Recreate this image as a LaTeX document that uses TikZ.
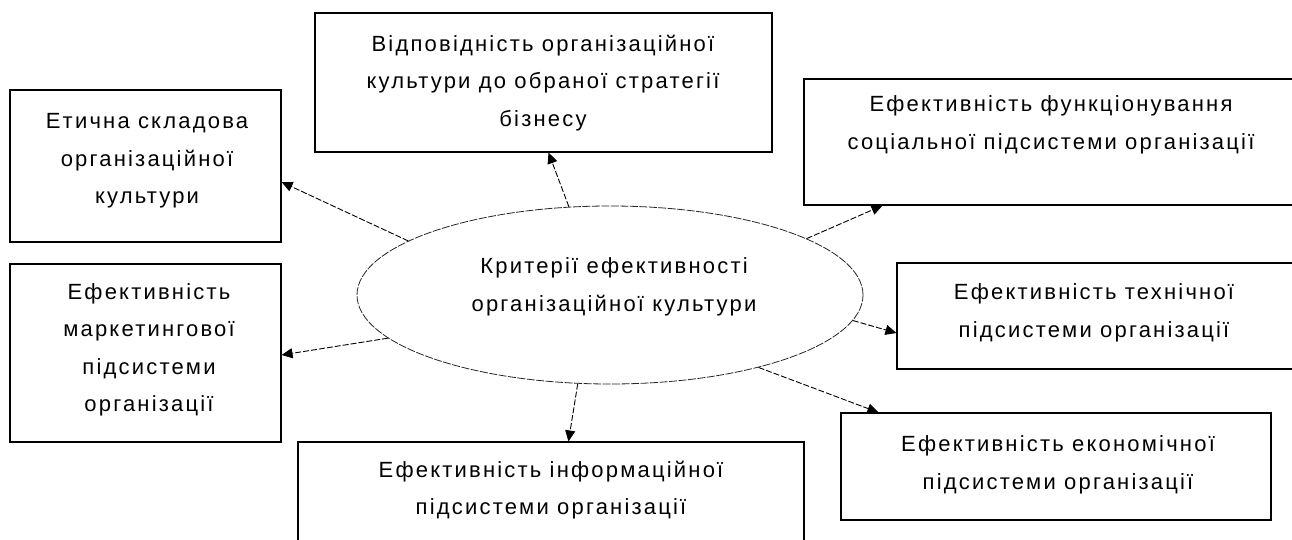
\documentclass[tikz,border=0pt]{standalone}
\usepackage{fontspec}
\setmainfont{Liberation Sans}[LetterSpace=10]
\usetikzlibrary{arrows.meta,calc,shapes.geometric}
\begin{document}
\begin{tikzpicture}[x=1pt,y=-1pt,
  box/.style={draw=black,line width=1.1pt,inner sep=0pt,rectangle},
  oval/.style={draw=black!85,line width=0.8pt,ellipse,inner sep=0pt,dash pattern=on 8pt off 1.5pt},
  txt/.style={align=center,inner sep=0pt,font=\fontsize{22}{37.5}\selectfont},
  conn/.style={draw=black,line width=0.9pt,dash pattern=on 6pt off 2pt,-{Triangle[length=11pt,width=10pt]}}]
\useasboundingbox (0,0) rectangle (1292,540);
\clip (0,0) rectangle (1292,540);
\fill[white] (0,0) rectangle (1292,540);
% boxes
\node[box,minimum width=271pt,minimum height=152pt] (etic) at (145.5,166) {};
\node[box,minimum width=457pt,minimum height=139pt] (resp) at (543.5,82.5) {};
\node[box,minimum width=494pt,minimum height=126pt] (soc) at (1051,142) {};
\node[box,minimum width=271pt,minimum height=178pt] (mkt) at (145.5,353) {};
\node[box,minimum width=396pt,minimum height=106pt] (tech) at (1095,316) {};
\node[box,minimum width=430pt,minimum height=107pt] (econ) at (1056,466.5) {};
\node[box,minimum width=506pt,minimum height=118pt] (info) at (551,501) {};
\node[oval,minimum width=506pt,minimum height=178pt] (c) at (610,295) {};
% texts
\node[txt] (tetic) at (147,161) {Етична складова\\організаційної\\культури};
\node[txt] (tresp) at (543,83) {Відповідність організаційної\\культури до обраної стратегії\\бізнесу};
\node[txt] (tsoc) at (1051,125) {Ефективність функціонування\\соціальної підсистеми організації};
\node[txt] (tmkt) at (149,350) {Ефективність\\маркетингової\\підсистеми\\організації};
\node[txt] (ttech) at (1094,313) {Ефективність технічної\\підсистеми організації};
\node[txt] (tecon) at (1058,465) {Ефективність економічної\\підсистеми організації};
\node[txt] (tinfo) at (551,490) {Ефективність інформаційної\\підсистеми організації};
\node[txt] (tc) at (614,287) {Критерії ефективності\\організаційної культури};
% connectors
\draw[conn] (c.165.3) -- ([yshift=-16pt]etic.east);
\draw[conn] (c.115.8) -- ([xshift=5pt]resp.south);
\draw[conn] (c.16.5) -- ([xshift=79pt]soc.south west);
\draw[conn] (c.-6) -- ([yshift=-17pt]tech.west);
\draw[conn] (c.-26.4) -- ([xshift=38pt]econ.north west);
\draw[conn] (c.-110.3) -- ([xshift=271pt]info.north west);
\draw[conn] (c.191.7) -- ([yshift=-2pt]mkt.east);
\end{tikzpicture}
\end{document}
